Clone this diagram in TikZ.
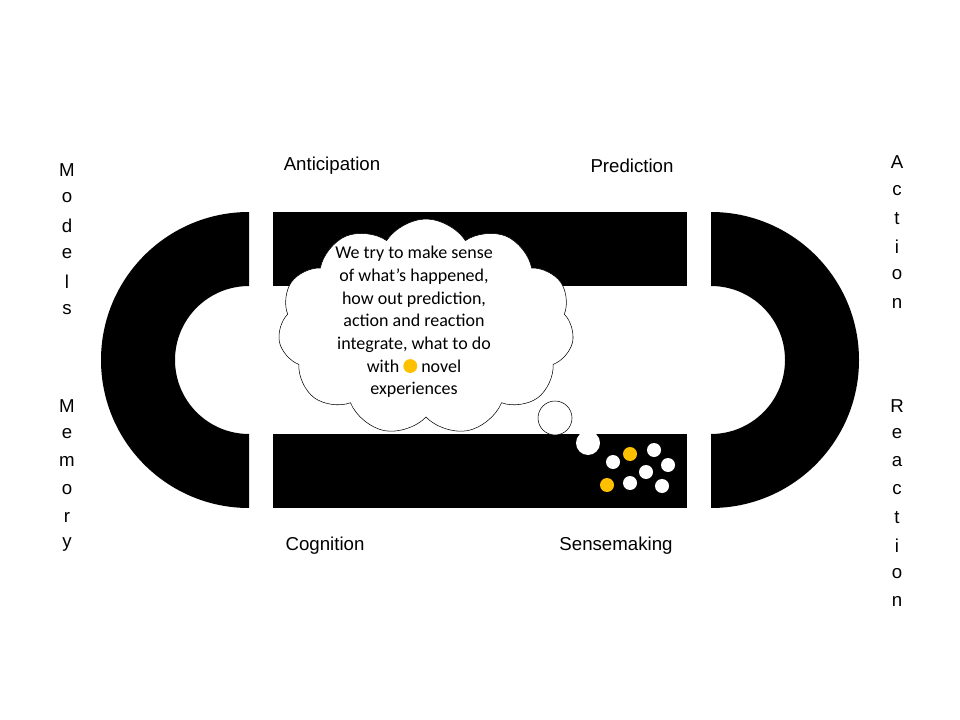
\documentclass[tikz,border=0pt]{standalone}
\usepackage{fontspec}
\setmainfont{Liberation Sans}
\newfontfamily\calfont{Carlito}
\usetikzlibrary{shapes.symbols}
\definecolor{gold}{HTML}{FFC000}
\begin{document}
\begin{tikzpicture}[x=0.75pt,y=-0.75pt,
  lbl/.style={font=\fontsize{14}{14}\selectfont,inner sep=0pt},
  wdot/.style={fill=white,draw=none},
  ydot/.style={fill=gold,draw=none}]
\useasboundingbox (0,0) rectangle (960,720);
% left C
\fill (249,212) arc[start angle=-90,end angle=-270,radius=148] -- (249,434) arc[start angle=90,end angle=270,radius=74] -- cycle;
% right C
\fill (711,212) arc[start angle=-90,end angle=90,radius=148] -- (711,434) arc[start angle=90,end angle=-90,radius=74] -- cycle;
\fill (273,212) rectangle (687,286);
\fill (273,434) rectangle (687,508);
\node[cloud,draw,fill=white,cloud puffs=11,cloud puff arc=115,aspect=1.4,minimum width=222pt,minimum height=162pt,inner sep=0pt] (cl) at (426,327) {};
\node[font=\calfont\fontsize{13.5}{17}\selectfont,align=center] (txt) at (414,322) {We try to make sense\\of what’s happened,\\how out prediction,\\action and reaction\\integrate, what to do\\with \textcolor{gold}{\raisebox{-0.1ex}{\tikz\fill (0,0) circle (5.2pt);}} novel\\experiences};
\draw[fill=white] (555,418) circle (17);
\fill[wdot] (588,443) circle (12);
\foreach \p in {(613,462),(654,450),(646,472),(668,465),(630,483),(662,486)} \fill[wdot] \p circle (7);
\foreach \p in {(630,454),(607,485)} \fill[ydot] \p circle (7);
\node[lbl] (ant) at (332,166) {Anticipation};
\node[lbl] (pre) at (632,166) {Prediction};
\node[lbl] (cog) at (325,546) {Cognition};
\node[lbl] (sen) at (616,546) {Sensemaking};
\foreach \c [count=\i from 0] in {M,o,d,e,l,s} \node[lbl] at (67,170+28*\i) {\c};
\foreach \c [count=\i from 0] in {M,e,m,o,r,y} \node[lbl] at (67,406+27.8*\i) {\c};
\foreach \c [count=\i from 0] in {A,c,t,i,o,n} \node[lbl] at (897,162+28.2*\i) {\c};
\foreach \c [count=\i from 0] in {R,e,a,c,t,i,o,n} \node[lbl] at (897,406+27.9*\i) {\c};
\end{tikzpicture}
\end{document}
